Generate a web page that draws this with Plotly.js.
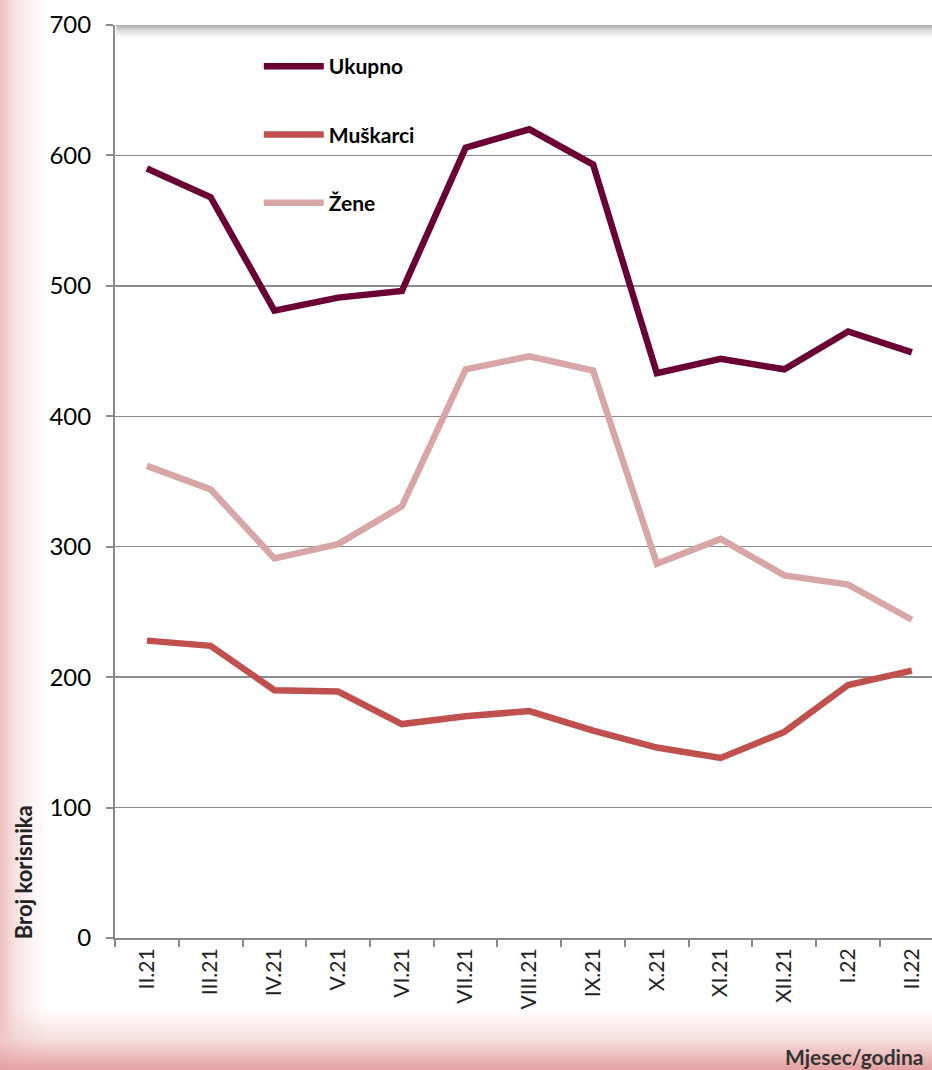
<!DOCTYPE html>
<html>
<head>
<meta charset="utf-8">
<script src="https://cdn.plot.ly/plotly-3.0.1.min.js"></script>
<style>
  html, body { margin: 0; padding: 0; overflow: hidden; }
  #wrap {
    width: 932px; height: 1070px; position: relative;
    background:
      linear-gradient(to top, rgba(228,160,160,1) 0px, rgba(240,200,200,0.6) 30px, rgba(255,255,255,0) 62px),
      linear-gradient(to right, rgba(238,192,192,1) 0px, rgba(246,222,222,0.7) 18px, rgba(255,255,255,0) 48px),
      #ffffff;
  }
  #chart { width: 932px; height: 1070px; }
</style>
</head>
<body>
<div id="wrap"><div id="chart"></div></div>
<script>
const months = ["II.21","III.21","IV.21","V.21","VI.21","VII.21","VIII.21","IX.21","X.21","XI.21","XII.21","I.22","II.22"];
const ukupno = [590, 568, 481, 491, 496, 606, 620, 593, 433, 444, 436, 465, 449];
const muskarci = [228, 224, 190, 189, 164, 170, 174, 159, 146, 138, 158, 194, 205];
const zene = [362, 344, 291, 302, 331, 436, 446, 435, 287, 306, 278, 271, 244];
const yTicks = [0, 100, 200, 300, 400, 500, 600, 700];

const FONT = "Lato, 'Liberation Sans', sans-serif";

const traces = [
  {x: months, y: ukupno, name: "Ukupno", type: "scatter", mode: "lines", legendgroup: "a",
   line: {color: "#6a0034", width: 6.5}},
  {x: months, y: muskarci, name: "Muškarci", type: "scatter", mode: "lines", legendgroup: "b",
   line: {color: "#c0504d", width: 6.5}},
  {x: months, y: zene, name: "Žene", type: "scatter", mode: "lines", legendgroup: "c",
   line: {color: "#d9a6a7", width: 6.5}}
];

// top shadow under the 700 line
const shapes = [];
const shadowSteps = 10;
for (let i = 0; i < shadowSteps; i++) {
  shapes.push({
    type: "rect", xref: "paper", yref: "paper", layer: "above",
    x0: 0.0015, x1: 1,
    y0: 1 - (i + 1) * 1.5 / 913, y1: 1 - i * 1.5 / 913,
    fillcolor: "rgba(110,110,110," + (0.55 * Math.pow(1 - i / shadowSteps, 2)).toFixed(3) + ")",
    line: {width: 0}
  });
}

const layout = {
  width: 932, height: 1070,
  margin: {l: 115, r: 0, t: 25, b: 132, pad: 0},
  paper_bgcolor: "rgba(0,0,0,0)",
  plot_bgcolor: "#ffffff",
  font: {family: FONT, color: "#000"},
  showlegend: true,
  legend: {
    x: 0.176, y: 0.977, xanchor: "left", yanchor: "top",
    bgcolor: "rgba(0,0,0,0)",
    font: {family: FONT, size: 21, color: "#000", weight: "bold"},
    tracegroupgap: 38,
    itemwidth: 60
  },
  xaxis: {
    type: "category",
    range: [-0.5, 12.316],
    tickson: "boundaries",
    ticks: "outside", ticklen: 7, tickwidth: 2, tickcolor: "#8a8a8a",
    showline: true, linecolor: "#8a8a8a", linewidth: 2,
    showgrid: false,
    tickangle: -90,
    tickfont: {family: FONT, size: 21, color: "#222"},
    fixedrange: true
  },
  yaxis: {
    range: [0, 700],
    tickvals: yTicks,
    ticktext: yTicks.map(String),
    ticks: "outside", ticklen: 7, tickwidth: 2, tickcolor: "#8a8a8a",
    showline: true, linecolor: "#8a8a8a", linewidth: 2,
    showgrid: true, gridcolor: "#8c8c8c", gridwidth: 1.5,
    zeroline: false,
    tickfont: {family: FONT, size: 24, color: "#000"},
    ticklabelstandoff: 10,
    fixedrange: true
  },
  shapes: shapes,
  annotations: [
    {text: "<b>Broj korisnika</b>", xref: "paper", yref: "paper",
     x: -0.112, y: -0.003, xanchor: "center", yanchor: "bottom", textangle: -90,
     showarrow: false, font: {family: FONT, size: 22, color: "#222"}},
    {text: "<b>Mjesec/godina</b>", xref: "paper", yref: "paper",
     x: 0.9915, y: -0.1303, xanchor: "right", yanchor: "middle",
     showarrow: false, font: {family: FONT, size: 21, color: "#333"}}
  ]
};

Plotly.newPlot("chart", traces, layout, {displayModeBar: false, staticPlot: true});
</script>
</body>
</html>
